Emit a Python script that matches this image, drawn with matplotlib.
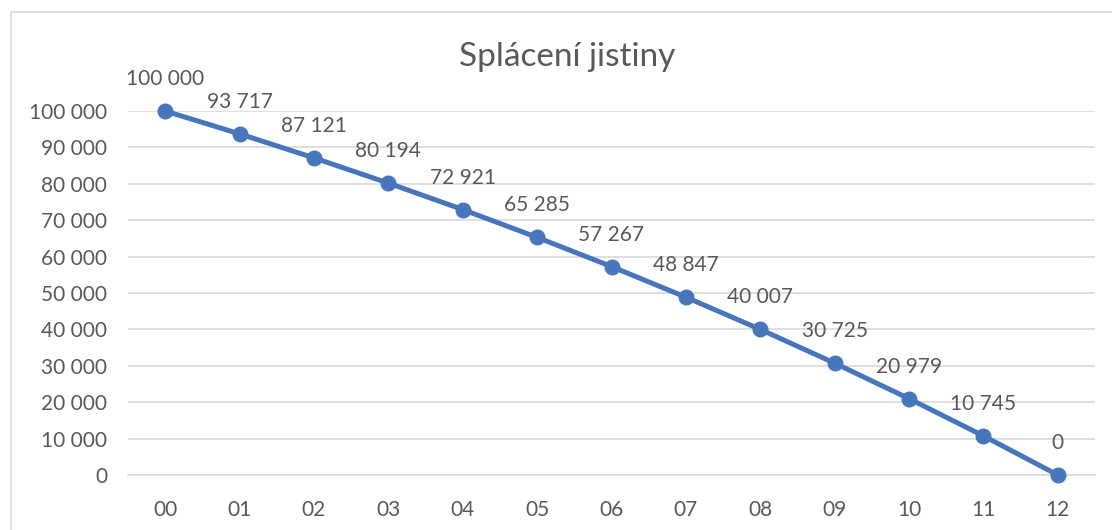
import matplotlib
matplotlib.use("Agg")
import matplotlib.pyplot as plt
from matplotlib.patches import Rectangle
from matplotlib.ticker import FuncFormatter

categories = ["00", "01", "02", "03", "04", "05", "06", "07", "08", "09", "10", "11", "12"]
values = [100000, 93717, 87121, 80194, 72921, 65285, 57267, 48847, 40007, 30725, 20979, 10745, 0]
y_ticks = [0, 10000, 20000, 30000, 40000, 50000, 60000, 70000, 80000, 90000, 100000]
title = "Splácení jistiny"

def fmt(v):
    return f"{int(v):,}".replace(",", " ")

plt.rcParams['font.family'] = ['Lato', 'DejaVu Sans']
text_color = "#595959"
line_color = "#4876BD"
grid_color = "#D9D9D9"

fig = plt.figure(figsize=(11.12, 5.30), dpi=100)
fig.patches.append(Rectangle((11/1112, -0.1), 1.2, (530-12)/530 + 0.1, transform=fig.transFigure,
                             fill=False, edgecolor="#D9D9D9", linewidth=1.2))

ax = fig.add_axes([128/1112, 1-475/530, (1095-128)/1112, (475-111)/530])
x = list(range(len(categories)))
ax.plot(x, values, color=line_color, linewidth=3.6, marker="o", markersize=10.5,
        markerfacecolor=line_color, markeredgecolor=line_color, clip_on=False, zorder=3,
        solid_capstyle="round")

for xi, v in zip(x, values):
    ax.annotate(fmt(v), (xi, v), xytext=(0, 23), textcoords="offset points",
                ha="center", va="center", fontsize=15, color=text_color)

ax.set_xlim(-0.5, len(categories) - 0.5)
ax.set_ylim(0, 100000)
ax.set_yticks(y_ticks)
ax.yaxis.set_major_formatter(FuncFormatter(lambda v, p: fmt(v)))
ax.set_xticks(x)
ax.set_xticklabels(categories)
ax.grid(axis="y", color=grid_color, linewidth=1.2)
ax.set_axisbelow(True)
for s in ax.spines.values():
    s.set_visible(False)
ax.spines["bottom"].set_visible(True)
ax.spines["bottom"].set_color(grid_color)
ax.spines["bottom"].set_linewidth(1.2)
ax.tick_params(axis="both", length=0, labelsize=15, labelcolor=text_color)
ax.tick_params(axis="y", pad=15)
ax.tick_params(axis="x", pad=18)

fig.text(567/1112, 1-57/530, title, ha="center", va="center", fontsize=24, color=text_color)

fig.savefig("out.png", dpi=100)
